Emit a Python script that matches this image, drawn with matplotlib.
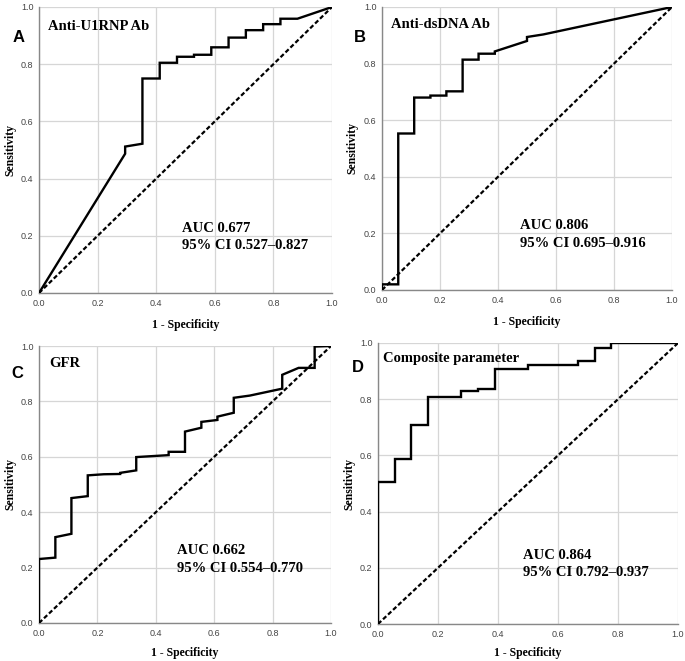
import matplotlib
matplotlib.use("Agg")
import matplotlib.pyplot as plt

# ---- data ----
a_fpr = [0.0, 0.294, 0.294, 0.353, 0.353, 0.412, 0.412, 0.471, 0.471, 0.529, 0.529,
         0.588, 0.588, 0.647, 0.647, 0.706, 0.706, 0.765, 0.765, 0.824, 0.824, 0.882, 1.0]
a_tpr = [0.0, 0.487, 0.512, 0.522, 0.750, 0.750, 0.805, 0.805, 0.826, 0.826, 0.833,
         0.833, 0.859, 0.859, 0.893, 0.893, 0.919, 0.919, 0.940, 0.940, 0.959, 0.959, 1.0]

b_fpr = [0.0, 0.0, 0.056, 0.056, 0.111, 0.111, 0.167, 0.167, 0.222, 0.222, 0.278, 0.278,
         0.333, 0.333, 0.389, 0.389, 0.5, 0.5, 0.556, 1.0]
b_tpr = [0.0, 0.020, 0.020, 0.553, 0.553, 0.680, 0.680, 0.687, 0.687, 0.702, 0.702, 0.814,
         0.814, 0.835, 0.835, 0.843, 0.880, 0.894, 0.903, 1.0]

c_fpr = [0.0, 0.0, 0.056, 0.056, 0.111, 0.111, 0.167, 0.167, 0.222, 0.278, 0.278, 0.333,
         0.333, 0.444, 0.444, 0.5, 0.5, 0.556, 0.556, 0.611, 0.611, 0.667, 0.667, 0.722,
         0.833, 0.833, 0.889, 0.944, 0.944, 1.0]
c_tpr = [0.0, 0.231, 0.236, 0.310, 0.322, 0.451, 0.458, 0.533, 0.537, 0.538, 0.542, 0.551,
         0.599, 0.606, 0.618, 0.618, 0.691, 0.705, 0.726, 0.733, 0.745, 0.759, 0.813, 0.821,
         0.846, 0.896, 0.921, 0.921, 0.998, 1.0]

d_fpr = [0.0, 0.0, 0.056, 0.056, 0.111, 0.111, 0.167, 0.167, 0.278, 0.278, 0.333, 0.333,
         0.389, 0.389, 0.5, 0.5, 0.667, 0.667, 0.722, 0.722, 0.778, 0.778, 1.0]
d_tpr = [0.0, 0.507, 0.507, 0.587, 0.587, 0.707, 0.707, 0.808, 0.808, 0.828, 0.828, 0.836,
         0.836, 0.907, 0.907, 0.920, 0.920, 0.935, 0.935, 0.981, 0.981, 1.0, 1.0]

letters = ["A", "B", "C", "D"]
titles = ["Anti-U1RNP Ab", "Anti-dsDNA Ab", "GFR", "Composite parameter"]
auc_texts = ["AUC 0.677\n95% CI 0.527\u20130.827",
             "AUC 0.806\n95% CI 0.695\u20130.916",
             "AUC 0.662\n95% CI 0.554\u20130.770",
             "AUC 0.864\n95% CI 0.792\u20130.937"]
ticks = [0.0, 0.2, 0.4, 0.6, 0.8, 1.0]
tick_labels = ["0.0", "0.2", "0.4", "0.6", "0.8", "1.0"]

curves = [(a_fpr, a_tpr), (b_fpr, b_tpr), (c_fpr, c_tpr), (d_fpr, d_tpr)]

W, H = 685, 661
fig = plt.figure(figsize=(W / 100, H / 100), dpi=100)

# axes rectangles in pixels: left, top, right, bottom
rects = [(39, 7, 332, 293), (382, 7, 672, 290), (39, 346, 331, 623), (378, 343, 678, 624)]
title_pos = [(0.03, 0.955), (0.032, 0.962), (0.034, 0.961), (0.017, 0.967)]
auc_pos = [(0.488, 0.25), (0.475, 0.25), (0.472, 0.285), (0.483, 0.267)]
letter_pos = [(19, 37), (360, 37), (17, 374), (358, 367)]
xlabel_y = [325, 322, 653, 653]
ylabel_x = [10, 352, 10, 349]

serif = ["Times New Roman", "Liberation Serif", "DejaVu Serif"]
sans = ["Liberation Sans", "DejaVu Sans"]

for i, (l, t, r, b) in enumerate(rects):
    ax = fig.add_axes([l / W, (H - b) / H, (r - l) / W, (b - t) / H])
    fpr, tpr = curves[i]
    ax.plot([0, 1], [0, 1], color="black", lw=1.6, linestyle=(0, (2.0, 1.1)), zorder=3)
    ax.plot(fpr, tpr, color="black", lw=1.7, zorder=4, solid_joinstyle="miter")
    ax.set_xlim(0, 1)
    ax.set_ylim(0, 1)
    ax.set_xticks(ticks)
    ax.set_yticks(ticks)
    ax.set_xticklabels(tick_labels, family=sans, fontsize=6.5, color="#444444")
    ax.set_yticklabels(tick_labels, family=sans, fontsize=6.5, color="#444444")
    ax.tick_params(length=0, pad=4)
    ax.grid(True, color="#d6d6d6", lw=0.9)
    ax.set_axisbelow(True)
    for s in ["top", "right"]:
        ax.spines[s].set_visible(False)
    for s in ["left", "bottom"]:
        ax.spines[s].set_color("#888888")
        ax.spines[s].set_linewidth(1.0)
    ax.text(title_pos[i][0], title_pos[i][1], titles[i], transform=ax.transAxes,
            family=serif, fontweight="bold", fontsize=10.5, va="top", ha="left")
    ax.text(auc_pos[i][0], auc_pos[i][1], auc_texts[i], transform=ax.transAxes,
            family=serif, fontweight="bold", fontsize=10.5, va="top", ha="left",
            linespacing=1.45)
    fig.text(letter_pos[i][0] / W, 1 - letter_pos[i][1] / H, letters[i],
             family=sans, fontweight="bold", fontsize=12, ha="center", va="center")
    fig.text(((l + r) / 2) / W, 1 - xlabel_y[i] / H, "1 - Specificity",
             family=serif, fontweight="bold", fontsize=8.5, ha="center", va="center")
    fig.text(ylabel_x[i] / W, 1 - ((t + b) / 2) / H, "Sensitivity", rotation=90,
             family=serif, fontweight="bold", fontsize=8.5, ha="center", va="center")

fig.savefig("out.png", dpi=100, facecolor="white")
